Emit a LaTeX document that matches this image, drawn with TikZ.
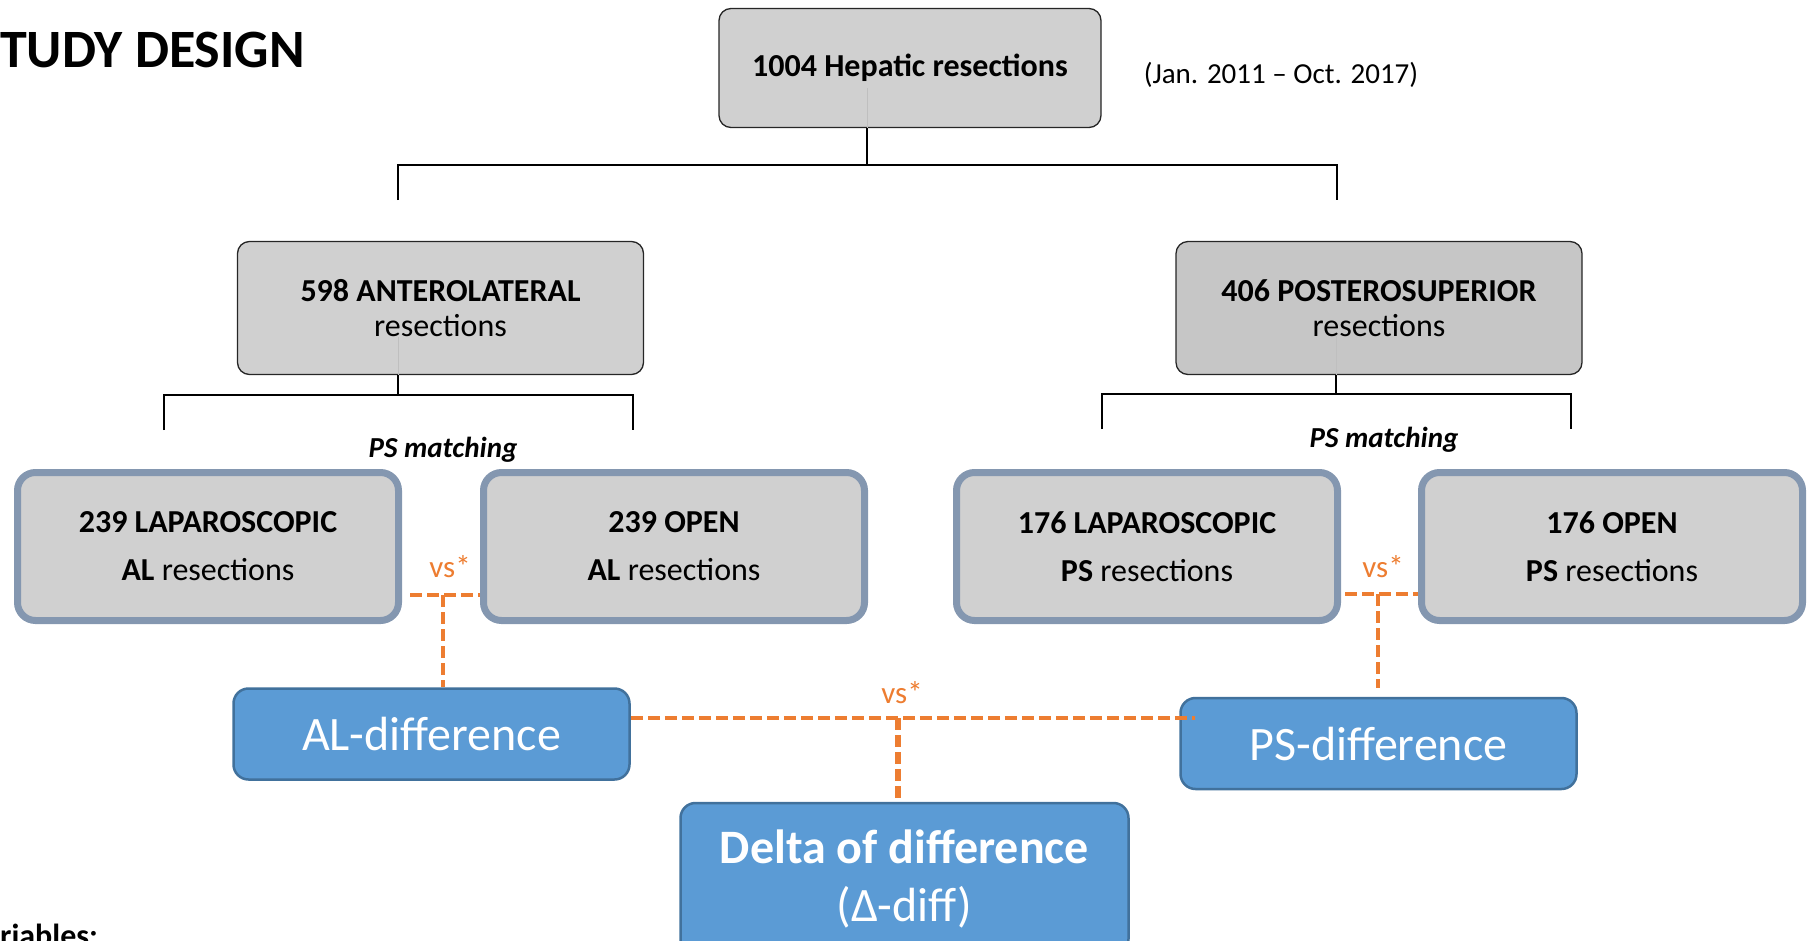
\documentclass[tikz,border=0pt]{standalone}
\usepackage{fontspec}
\setmainfont{Carlito}
\definecolor{boxgrey}{HTML}{D0D0D0}
\definecolor{boxgreyd}{HTML}{C6C6C6}
\definecolor{rimblue}{HTML}{8497B0}
\definecolor{fillblue}{HTML}{5B9BD5}
\definecolor{lineblue}{HTML}{41719C}
\definecolor{vsorange}{HTML}{ED7D31}
\begin{document}
\begin{tikzpicture}[x=1pt, y=-1pt,
    headbox/.style={rectangle, draw=black!85, line width=1.3pt, fill=boxgrey, rounded corners=12pt, minimum width=382pt, minimum height=119pt, align=center, font=\fontsize{32}{35}\selectfont},
    groupbox/.style={headbox, minimum width=406pt, minimum height=133pt},
    armbox/.style={rectangle, draw=rimblue, line width=7pt, fill=boxgrey, rounded corners=18pt, minimum width=381pt, minimum height=148pt, align=center, font=\fontsize{32}{48}\selectfont},
    diffbox/.style={rectangle, draw=lineblue, line width=2.5pt, fill=fillblue, rounded corners=15pt, minimum width=396pt, minimum height=91pt, text=white, align=center, font=\fontsize{48}{58}\selectfont},
    tree/.style={black, line width=1.3pt},
    ghost/.style={black!25, line width=1pt},
    cmp/.style={vsorange, line width=4.8pt, dash pattern=on 12pt off 5pt},
    vslabel/.style={text=vsorange, inner sep=0pt, anchor=base, font=\fontsize{31}{32}\selectfont},
    match/.style={inner sep=0pt, anchor=base, font=\fontsize{29}{30}\selectfont\bfseries\itshape}
]
\useasboundingbox (0,0) rectangle (1810,940);
\clip (0,0) rectangle (1810,940);

\node[headbox] (total) at (910,68) {\textbf{1004 Hepatic resections}};

\node[groupbox] (al) at (440.5,308) {\textbf{598 ANTEROLATERAL}\\resections};
\node[groupbox, fill=boxgreyd] (ps) at (1379,308) {\textbf{406 POSTEROSUPERIOR}\\resections};

\node[armbox] (allap) at (208,546.5) {\textbf{239 LAPAROSCOPIC}\\\textbf{AL} resections};
\node[armbox] (alopen) at (674,546.5) {\textbf{239 OPEN}\\\textbf{AL} resections};
\node[armbox] (pslap) at (1147,546.5) {\textbf{176 LAPAROSCOPIC}\\\textbf{PS} resections};
\node[armbox] (psopen) at (1612,546.5) {\textbf{176 OPEN}\\\textbf{PS} resections};

\node[diffbox] (aldiff) at (431.5,734) {AL-difference};
\node[diffbox] (psdiff) at (1378.5,743.5) {PS-difference};
\node[diffbox, minimum width=448pt, minimum height=151pt] (delta) at (904.5,878.5) {\textbf{Delta of difference}\\(Δ-diff)};

% tree under the total
\coordinate (totalfoot) at (867,88);
\coordinate (totaljoin) at (867,165);
\coordinate (alhead) at (398,200);
\coordinate (pshead) at (1337,200);
\draw[ghost] (totalfoot) -- (totalfoot |- total.south);
\draw[tree] (totalfoot |- total.south) -- (totaljoin);
\draw[tree] (alhead) |- (totaljoin) -| (pshead);

% tree under the two groups
\coordinate (alfoot) at (398,337);
\coordinate (aljoin) at (398,395);
\coordinate (allaphead) at (164,430);
\coordinate (alopenhead) at (633,430);
\draw[ghost] (alfoot) -- (alfoot |- al.south);
\draw[tree] (alfoot |- al.south) -- (aljoin);
\draw[tree] (allaphead) |- (aljoin) -| (alopenhead);

\coordinate (psfoot) at (1336,335);
\coordinate (psjoin) at (1336,394);
\coordinate (pslaphead) at (1102,429);
\coordinate (psopenhead) at (1571,429);
\draw[ghost] (psfoot) -- (psfoot |- ps.south);
\draw[tree] (psfoot |- ps.south) -- (psjoin);
\draw[tree] (pslaphead) |- (psjoin) -| (psopenhead);

% comparisons
\coordinate (alvs) at (443,595);
\coordinate (psvs) at (1378,594);
\coordinate (midvs) at (898,718);
\draw[cmp] ([xshift=8pt]allap.east |- alvs) -- (alopen.west |- alvs);
\draw[cmp] (alvs) -- (aldiff.north -| alvs);
\draw[cmp] ([xshift=4pt]pslap.east |- psvs) -- (psopen.west |- psvs);
\draw[cmp, shorten >=9pt] (psvs) -- (psdiff.north -| psvs);
\draw[cmp] (aldiff.east |- midvs) -- ([xshift=16pt]psdiff.west |- midvs);
\draw[cmp, line width=6pt] (midvs) -- (delta.north -| midvs);

\node[vslabel] (alvstext) at (450,577) {vs*};
\node[vslabel] (psvstext) at (1383,577) {vs*};
\node[vslabel] (midvstext) at (902,703) {vs*};

\node[match] (almatch) at (443,457) {PS matching};
\node[match] (psmatch) at (1384,447) {PS matching};

\node[anchor=base west, inner sep=0pt, font=\fontsize{54}{60}\selectfont\bfseries] (title) at (0,67) {TUDY DESIGN};
\node[anchor=base, inner sep=0pt, font=\fontsize{29}{32}\selectfont] (period) at (1281,83) {(Jan. 2011 – Oct. 2017)};
\node[anchor=base west, inner sep=0pt, font=\fontsize{32}{36}\selectfont\bfseries] (vars) at (0,946) {riables:};
\end{tikzpicture}
\end{document}
